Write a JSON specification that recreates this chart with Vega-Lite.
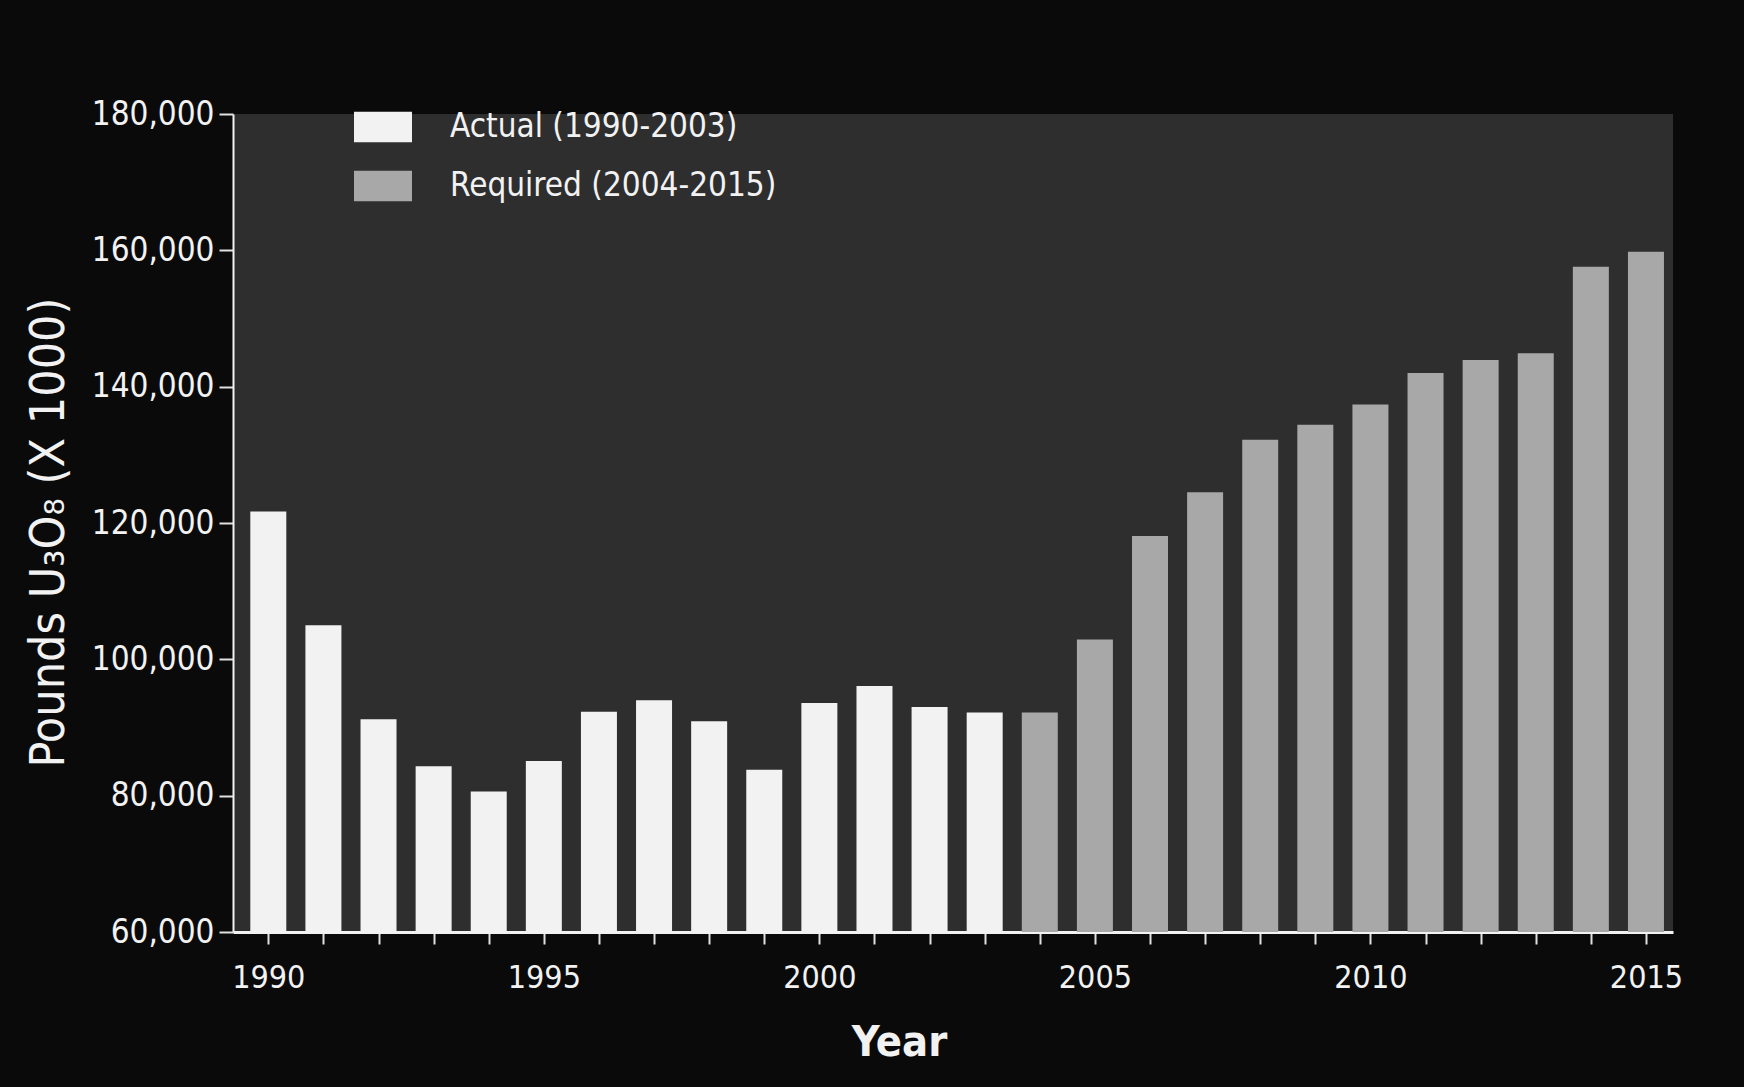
{
  "$schema": "https://vega.github.io/schema/vega-lite/v6.json",
  "width": 1440,
  "height": 818,
  "autosize": {"type": "none"},
  "padding": {"left": 233, "top": 114, "right": 71, "bottom": 155},
  "background": "#0a0a0a",
  "config": {
    "view": {"fill": "#2e2e2e", "stroke": null},
    "font": "DejaVu Sans Condensed, DejaVu Sans"
  },
  "data": {
    "values": [
      {"year": 1990, "pounds": 121700, "series": "Actual (1990-2003)"},
      {"year": 1991, "pounds": 105000, "series": "Actual (1990-2003)"},
      {"year": 1992, "pounds": 91200, "series": "Actual (1990-2003)"},
      {"year": 1993, "pounds": 84300, "series": "Actual (1990-2003)"},
      {"year": 1994, "pounds": 80600, "series": "Actual (1990-2003)"},
      {"year": 1995, "pounds": 85100, "series": "Actual (1990-2003)"},
      {"year": 1996, "pounds": 92300, "series": "Actual (1990-2003)"},
      {"year": 1997, "pounds": 94000, "series": "Actual (1990-2003)"},
      {"year": 1998, "pounds": 90900, "series": "Actual (1990-2003)"},
      {"year": 1999, "pounds": 83800, "series": "Actual (1990-2003)"},
      {"year": 2000, "pounds": 93600, "series": "Actual (1990-2003)"},
      {"year": 2001, "pounds": 96100, "series": "Actual (1990-2003)"},
      {"year": 2002, "pounds": 93000, "series": "Actual (1990-2003)"},
      {"year": 2003, "pounds": 92200, "series": "Actual (1990-2003)"},
      {"year": 2004, "pounds": 92200, "series": "Required (2004-2015)"},
      {"year": 2005, "pounds": 102900, "series": "Required (2004-2015)"},
      {"year": 2006, "pounds": 118100, "series": "Required (2004-2015)"},
      {"year": 2007, "pounds": 124500, "series": "Required (2004-2015)"},
      {"year": 2008, "pounds": 132200, "series": "Required (2004-2015)"},
      {"year": 2009, "pounds": 134400, "series": "Required (2004-2015)"},
      {"year": 2010, "pounds": 137400, "series": "Required (2004-2015)"},
      {"year": 2011, "pounds": 142000, "series": "Required (2004-2015)"},
      {"year": 2012, "pounds": 143900, "series": "Required (2004-2015)"},
      {"year": 2013, "pounds": 144900, "series": "Required (2004-2015)"},
      {"year": 2014, "pounds": 157600, "series": "Required (2004-2015)"},
      {"year": 2015, "pounds": 159800, "series": "Required (2004-2015)"}
    ]
  },
  "mark": {"type": "bar", "width": 36, "clip": true},
  "encoding": {
    "x": {
      "field": "year",
      "type": "quantitative",
      "scale": {"domain": [1989.45, 2015.4], "nice": false, "zero": false},
      "axis": {
        "title": "Year",
        "titleColor": "#f2f2f2",
        "titleFontSize": 43,
        "titleFontWeight": "bold",
        "titleX": 666,
        "titleAlign": "center",
        "titleAnchor": null,
        "titlePadding": 28,
        "values": [1990,1991,1992,1993,1994,1995,1996,1997,1998,1999,2000,2001,2002,2003,2004,2005,2006,2007,2008,2009,2010,2011,2012,2013,2014,2015],
        "format": "d",
        "labelExpr": "datum.value % 5 == 0 ? datum.label : ''",
        "labelColor": "#f2f2f2",
        "labelFontSize": 32,
        "labelPadding": 18,
        "labelFlush": false,
        "labelOverlap": false,
        "tickColor": "#e0e0e0",
        "tickSize": 12,
        "tickWidth": 2,
        "domainColor": "#f2f2f2",
        "domainWidth": 3,
        "grid": false
      }
    },
    "y": {
      "field": "pounds",
      "type": "quantitative",
      "scale": {"domain": [60000, 180000], "nice": false, "zero": false},
      "axis": {
        "title": "Pounds U₃O₈ (X 1000)",
        "titleColor": "#f2f2f2",
        "titleFontSize": 48,
        "titleFontWeight": "normal",
        "titlePadding": 18,
        "titleY": 418,
        "titleAnchor": null,
        "titleAlign": "center",
        "values": [60000, 80000, 100000, 120000, 140000, 160000, 180000],
        "format": ",.0f",
        "labelColor": "#f2f2f2",
        "labelFontSize": 33,
        "labelPadding": 5,
        "tickColor": "#e0e0e0",
        "tickSize": 14,
        "tickWidth": 2,
        "domainColor": "#f2f2f2",
        "domainWidth": 2,
        "grid": false
      }
    },
    "color": {
      "field": "series",
      "type": "nominal",
      "scale": {
        "domain": ["Actual (1990-2003)", "Required (2004-2015)"],
        "range": ["#f2f2f2", "#a8a8a8"]
      },
      "legend": {
        "title": null,
        "orient": "none",
        "legendX": 121,
        "legendY": -16,
        "symbolType": "M-1,-0.53L1,-0.53L1,0.53L-1,0.53Z",
        "symbolSize": 3364,
        "symbolStrokeWidth": 0,
        "labelColor": "#f2f2f2",
        "labelFontSize": 33,
        "labelOffset": 38,
        "rowPadding": 13,
        "labelLimit": 600
      }
    }
  }
}
